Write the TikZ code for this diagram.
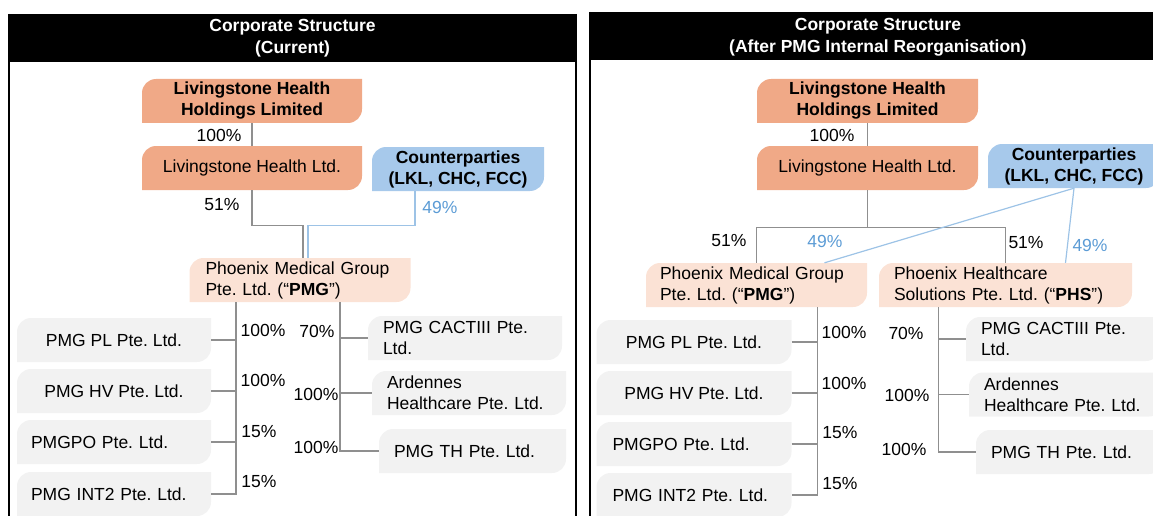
\documentclass[tikz,border=0pt]{standalone}
\usepackage{fontspec}
\setmainfont{Liberation Sans}
\frenchspacing
\definecolor{lhorange}{HTML}{F0A987}
\definecolor{cpblue}{HTML}{A7C9EB}
\definecolor{pmgpeach}{HTML}{FBE2D5}
\definecolor{subgray}{HTML}{F2F2F2}
\definecolor{linkgray}{HTML}{8F8F8F}
\definecolor{linkblue}{HTML}{9DC3E6}
\definecolor{pctblue}{HTML}{5B9BD5}
\tikzset{
  co/.style={inner sep=0pt, minimum height=44pt, align=center,
    path picture={\fill[#1] (path picture bounding box.south west)
      -- ([yshift=-14pt]path picture bounding box.north west)
      arc[start angle=180, end angle=90, radius=14pt]
      -- (path picture bounding box.north east)
      -- ([yshift=14pt]path picture bounding box.south east)
      arc[start angle=0, end angle=-90, radius=14pt] -- cycle;}},
  lft/.style={align=left, inner xsep=15pt}
}
\begin{document}
\begin{tikzpicture}[x=1pt, y=1pt, font=\fontsize{17.5}{21}\selectfont,
  link/.style={draw=linkgray, line width=1.4pt},
  bluelink/.style={draw=linkblue, line width=1.2pt},
  pct/.style={inner sep=0pt},
  bluepct/.style={inner sep=0pt, text=pctblue},
  hdr/.style={text=white, font=\fontsize{17.5}{22}\selectfont\bfseries, align=center, inner sep=0pt}]
\useasboundingbox (0,0) rectangle (1153,-516);

% current structure
\fill[black] (9,-14) rectangle (576,-62);
\draw[line width=1.3pt] (9,-14) -- (9,-516) (576,-14) -- (576,-516);
\node[hdr] (head1) at (292.5,-38) {Corporate Structure\\(Current)};

\node[co=lhorange, minimum width=220pt, font=\fontsize{17.5}{21}\selectfont\bfseries] (lhhl) at (252,-101) {Livingstone Health\\Holdings Limited};
\node[co=lhorange, minimum width=220pt] (lhl) at (252,-168) {Livingstone Health Ltd.};
\node[co=cpblue, minimum width=172pt, font=\fontsize{17.5}{21}\selectfont\bfseries] (cp) at (458,-169) {Counterparties\\(LKL, CHC, FCC)};
\node[co=pmgpeach, lft, inner xsep=16pt, text width=189pt] (pmg) at (300,-280) {Phoenix Medical Group\\Pte. Ltd. (“\textbf{PMG}”)};
\node[co=subgray, minimum width=194pt] (pl) at (114,-340) {PMG PL Pte. Ltd.};
\node[co=subgray, minimum width=194pt] (hv) at (114,-391) {PMG HV Pte. Ltd.};
\node[co=subgray, lft, inner xsep=14pt, text width=166pt] (po) at (114,-442) {PMGPO Pte. Ltd.};
\node[co=subgray, lft, inner xsep=14pt, text width=166pt] (int) at (114,-494) {PMG INT2 Pte. Ltd.};
\node[co=subgray, lft, text width=164pt] (cact) at (465,-338) {PMG CACTIII Pte.\\Ltd.};
\node[co=subgray, lft, text width=164pt] (ard) at (469,-393) {Ardennes\\Healthcare Pte. Ltd.};
\node[co=subgray, lft, text width=157pt] (th) at (472.5,-451) {PMG TH Pte. Ltd.};

\draw[link] (lhhl.south) -- (lhl.north);
\draw[link] (lhl.south) -- ++(0,-35) -| ([xshift=3pt]pmg.north);
\draw[bluelink] ([xshift=-43pt]cp.south) -- ++(0,-34) -| ([xshift=8pt]pmg.north);
\coordinate (ltrunk) at ([xshift=-64pt]pmg.south);
\coordinate (rtrunk) at ([xshift=40pt]pmg.south);
\draw[link] (ltrunk) |- (int.east);
\foreach \b in {pl,hv,po} \draw[link] (\b.east) -- (\b.east -| ltrunk);
\draw[link] (rtrunk) |- (th.west);
\foreach \b in {cact,ard} \draw[link] (rtrunk |- \b.west) -- (\b.west);

\node[pct] (p1) at (219,-135) {100\%};
\node[pct] (p2) at (222,-205) {51\%};
\node[bluepct] (p3) at (440,-207) {49\%};
\node[pct] (p4) at (263,-330) {100\%};
\node[pct] (p5) at (263,-380) {100\%};
\node[pct] (p6) at (259,-432) {15\%};
\node[pct] (p7) at (259,-482) {15\%};
\node[pct] (p8) at (317,-331) {70\%};
\node[pct] (p9) at (316,-394) {100\%};
\node[pct] (p10) at (316,-447) {100\%};

% after reorganisation
\fill[black] (590,-12) rectangle (1153,-60);
\draw[line width=1.3pt] (590,-12) -- (590,-516);
\node[hdr] (head2) at (878,-37.5) {Corporate Structure\\(After PMG Internal Reorganisation)};

\node[co=lhorange, minimum width=221pt, font=\fontsize{17.5}{21}\selectfont\bfseries] (lhhlb) at (867.5,-101) {Livingstone Health\\Holdings Limited};
\node[co=lhorange, minimum width=221pt] (lhlb) at (867.5,-168) {Livingstone Health Ltd.};
\node[co=cpblue, minimum width=172pt, font=\fontsize{17.5}{21}\selectfont\bfseries] (cpb) at (1074,-166) {Counterparties\\(LKL, CHC, FCC)};
\node[co=pmgpeach, lft, inner xsep=14pt, text width=193pt] (pmgb) at (756.5,-285) {Phoenix Medical Group\\Pte. Ltd. (“\textbf{PMG}”)};
\node[co=pmgpeach, lft, text width=223pt] (phs) at (1005.5,-285) {Phoenix Healthcare\\Solutions Pte. Ltd. (“\textbf{PHS}”)};
\node[co=subgray, minimum width=195pt] (plb) at (694,-342) {PMG PL Pte. Ltd.};
\node[co=subgray, minimum width=195pt] (hvb) at (694,-393) {PMG HV Pte. Ltd.};
\node[co=subgray, lft, inner xsep=16pt, text width=163pt] (pob) at (694,-444) {PMGPO Pte. Ltd.};
\node[co=subgray, lft, inner xsep=16pt, text width=163pt] (intb) at (694,-495) {PMG INT2 Pte. Ltd.};
\node[co=subgray, lft, text width=164pt] (cactb) at (1063,-339) {PMG CACTIII Pte.\\Ltd.};
\node[co=subgray, lft, text width=164pt] (ardb) at (1066,-394.5) {Ardennes\\Healthcare Pte. Ltd.};
\node[co=subgray, lft, text width=157pt] (thb) at (1069.5,-452) {PMG TH Pte. Ltd.};

\draw[link] (lhhlb.south) -- (lhlb.north);
\draw[link] (lhlb.south) -- ++(0,-37) coordinate (split);
\draw[link] (pmgb.north) |- (split) -| (phs.north);
\draw[bluelink] (cpb.south) -- ([xshift=68pt]pmgb.north);
\draw[bluelink] (cpb.south) -- ([xshift=60pt]phs.north);
\coordinate (ltrunkb) at ([xshift=61pt]pmgb.south);
\coordinate (rtrunkb) at ([xshift=-67pt]phs.south);
\draw[link] (ltrunkb) |- (intb.east);
\foreach \b in {plb,hvb,pob} \draw[link] (\b.east) -- (\b.east -| ltrunkb);
\draw[link] (rtrunkb) |- (thb.west);
\foreach \b in {cactb,ardb} \draw[link] (rtrunkb |- \b.west) -- (\b.west);

\node[pct] (q1) at (832,-135) {100\%};
\node[pct] (q2) at (729,-241) {51\%};
\node[bluepct] (q3) at (825,-241) {49\%};
\node[pct] (q4) at (1026,-243) {51\%};
\node[bluepct] (q5) at (1090,-245) {49\%};
\node[pct] (q6) at (844,-332) {100\%};
\node[pct] (q7) at (844,-383) {100\%};
\node[pct] (q8) at (840,-433) {15\%};
\node[pct] (q9) at (840,-484) {15\%};
\node[pct] (q10) at (906,-333) {70\%};
\node[pct] (q11) at (907,-395) {100\%};
\node[pct] (q12) at (904,-449) {100\%};
\end{tikzpicture}
\end{document}
